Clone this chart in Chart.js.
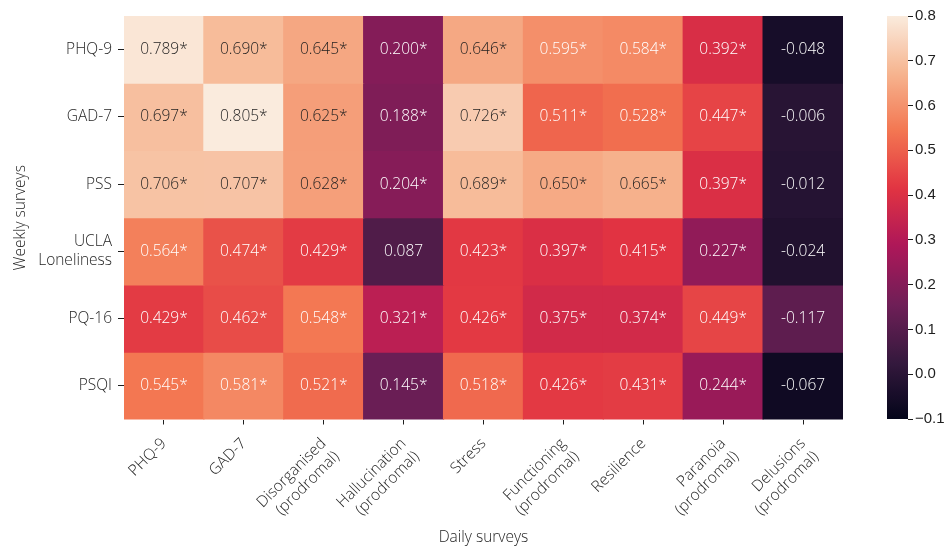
<!DOCTYPE html>
<html><head><meta charset="utf-8">
<script src="https://cdn.jsdelivr.net/npm/chart.js@4/dist/chart.umd.min.js"></script>
<style>
html,body{margin:0;padding:0;background:#fff;}
#wrap{position:relative;width:946px;height:548px;overflow:hidden;}
.box{position:absolute;top:0;height:548px;}
</style></head><body>
<div id="wrap">
  <div class="box" style="left:0;width:860px"><canvas id="main"></canvas></div>
  <div class="box" style="left:860px;width:86px"><canvas id="cbar"></canvas></div>
</div>
<script>
// ---- data ----
const dailySurveys = ["PHQ-9", "GAD-7", ["Disorganised", "(prodromal)"], ["Hallucination", "(prodromal)"],
  "Stress", ["Functioning", "(prodromal)"], "Resilience", ["Paranoia", "(prodromal)"], ["Delusions", "(prodromal)"]];
const weeklySurveys = ["PHQ-9", "GAD-7", "PSS", ["UCLA", "Loneliness"], "PQ-16", "PSQI"];

// cell shading values (as coloured in the figure)
const rowPHQ9  = [0.789, 0.690, 0.645, 0.200, 0.646, 0.595, 0.584, 0.392, -0.048];
const rowGAD7  = [0.697, 0.805, 0.625, 0.188, 0.726, 0.511, 0.528, 0.447, -0.006];
const rowPSS   = [0.706, 0.707, 0.628, 0.204, 0.689, 0.650, 0.665, 0.397, -0.012];
const rowUCLA  = [0.564, 0.474, 0.429, 0.087, 0.423, 0.397, 0.415, 0.227, -0.024];
const rowPQ16  = [0.429, 0.462, 0.548, 0.321, 0.426, 0.375, 0.374, 0.449, 0.117];
const rowPSQI  = [0.545, 0.581, 0.521, 0.145, 0.518, 0.426, 0.431, 0.244, -0.067];

// annotations printed in the cells
const annPHQ9 = ["0.789*", "0.690*", "0.645*", "0.200*", "0.646*", "0.595*", "0.584*", "0.392*", "-0.048"];
const annGAD7 = ["0.697*", "0.805*", "0.625*", "0.188*", "0.726*", "0.511*", "0.528*", "0.447*", "-0.006"];
const annPSS  = ["0.706*", "0.707*", "0.628*", "0.204*", "0.689*", "0.650*", "0.665*", "0.397*", "-0.012"];
const annUCLA = ["0.564*", "0.474*", "0.429*", "0.087", "0.423*", "0.397*", "0.415*", "0.227*", "-0.024"];
const annPQ16 = ["0.429*", "0.462*", "0.548*", "0.321*", "0.426*", "0.375*", "0.374*", "0.449*", "-0.117"];
const annPSQI = ["0.545*", "0.581*", "0.521*", "0.145*", "0.518*", "0.426*", "0.431*", "0.244*", "-0.067"];

const colorbarTicks = [-0.1, 0.0, 0.1, 0.2, 0.3, 0.4, 0.5, 0.6, 0.7, 0.8];
const VMIN = -0.1, VMAX = 0.8;

const rows = [rowPHQ9, rowGAD7, rowPSS, rowUCLA, rowPQ16, rowPSQI];
const anns = [annPHQ9, annGAD7, annPSS, annUCLA, annPQ16, annPSQI];

// ---- rocket colormap ----
const rocketStops = [
  [0, [3, 5, 26]], [1/7, [53, 25, 62]], [2/7, [112, 31, 87]], [3/7, [173, 23, 89]],
  [4/7, [225, 51, 66]], [5/7, [243, 118, 81]], [6/7, [246, 180, 143]], [1, [250, 235, 221]]
];
function rocketRGB(v) {
  let t = (v - VMIN) / (VMAX - VMIN);
  t = Math.max(0, Math.min(1, t));
  for (let k = 1; k < rocketStops.length; k++) {
    const [t1, c1] = rocketStops[k];
    const [t0, c0] = rocketStops[k - 1];
    if (t <= t1) {
      const f = (t - t0) / (t1 - t0);
      return c0.map((c, i) => Math.round(c + (c1[i] - c) * f));
    }
  }
  return rocketStops[rocketStops.length - 1][1];
}
const rgbStr = c => `rgb(${c[0]},${c[1]},${c[2]})`;
function luminance(c) {
  const l = c.map(x => { x /= 255; return x <= 0.03928 ? x / 12.92 : Math.pow((x + 0.055) / 1.055, 2.4); });
  return 0.2126 * l[0] + 0.7152 * l[1] + 0.0722 * l[2];
}

const FONT = "'Open Sans', 'Noto Sans', sans-serif";
const TXT = '#1e1e1e';
const W = 300;

const annotatePlugin = {
  id: 'annotate',
  afterDatasetsDraw(chart) {
    const ctx = chart.ctx;
    ctx.save();
    ctx.font = `${W} 15.5px ${FONT}`;
    ctx.textAlign = 'center';
    ctx.textBaseline = 'middle';
    chart.data.datasets.forEach((ds, i) => {
      const meta = chart.getDatasetMeta(i);
      meta.data.forEach((el, j) => {
        const rgb = rocketRGB(rows[i][j]);
        ctx.fillStyle = luminance(rgb) > 0.408 ? TXT : '#ffffff';
        ctx.fillText(anns[i][j], el.x, (el.y + el.base) / 2);
      });
    });
    ctx.restore();
  }
};

new Chart(document.getElementById('main'), {
  type: 'bar',
  data: {
    labels: dailySurveys,
    datasets: rows.map((row, i) => ({
      label: Array.isArray(weeklySurveys[i]) ? weeklySurveys[i].join(' ') : weeklySurveys[i],
      data: row.map(() => 1),
      backgroundColor: row.map(v => rgbStr(rocketRGB(v))),
      borderWidth: 0,
      inflateAmount: 0.6,
      barPercentage: 1,
      categoryPercentage: 1
    }))
  },
  options: {
    responsive: true,
    maintainAspectRatio: false,
    animation: false,
    layout: { padding: { left: 0, top: 16, right: 17, bottom: 0 } },
    plugins: { legend: { display: false }, tooltip: { enabled: false } },
    scales: {
      x: {
        stacked: true,
        grid: { display: true, offset: false, drawOnChartArea: false, drawTicks: true, tickLength: 5, color: TXT },
        border: { display: false },
        ticks: { color: TXT, font: { family: FONT, size: 15.5, weight: W }, maxRotation: 45, minRotation: 45, autoSkip: false, padding: 10 },
        title: { display: true, text: 'Daily surveys', color: TXT, font: { family: FONT, size: 15.5, weight: W }, padding: { top: 0, bottom: 1 } },
        afterFit: s => { s.height = 128.5; }
      },
      y: {
        type: 'linear',
        stacked: true,
        min: 0, max: weeklySurveys.length,
        reverse: true,
        afterBuildTicks: s => { s.ticks = weeklySurveys.map((_, i) => ({ value: i + 0.5 })); },
        grid: { display: true, drawOnChartArea: false, drawTicks: true, tickLength: 6, color: TXT },
        border: { display: false },
        ticks: {
          color: TXT, font: { family: FONT, size: 15.5, weight: W }, autoSkip: false, padding: 6,
          callback: v => weeklySurveys[Math.floor(v)]
        },
        title: { display: true, text: 'Weekly surveys', color: TXT, font: { family: FONT, size: 15.5, weight: W }, padding: { top: 11, bottom: 0 } },
        afterFit: s => { s.width = 124; }
      }
    }
  },
  plugins: [annotatePlugin]
});

// ---- colour bar ----
new Chart(document.getElementById('cbar'), {
  type: 'bar',
  data: {
    labels: ['r'],
    datasets: [{
      data: [[VMIN, VMAX]],
      backgroundColor: (c) => {
        const ch = c.chart;
        if (!ch.chartArea) return 'rgb(200,50,70)';
        const y = ch.scales.y;
        const g = ch.ctx.createLinearGradient(0, y.getPixelForValue(VMIN), 0, y.getPixelForValue(VMAX));
        const n = 60;
        for (let k = 0; k <= n; k++) g.addColorStop(k / n, rgbStr(rocketRGB(VMIN + (VMAX - VMIN) * k / n)));
        return g;
      },
      borderWidth: 0,
      barPercentage: 1,
      categoryPercentage: 1
    }]
  },
  options: {
    responsive: true,
    maintainAspectRatio: false,
    animation: false,
    layout: { padding: { left: 27, top: 16, right: 0, bottom: 129 } },
    plugins: { legend: { display: false }, tooltip: { enabled: false } },
    scales: {
      x: { display: false },
      y: {
        position: 'right',
        min: VMIN, max: VMAX,
        afterBuildTicks: s => { s.ticks = colorbarTicks.map(v => ({ value: v })); },
        grid: { display: true, drawOnChartArea: false, drawTicks: true, tickLength: 5, color: TXT },
        border: { display: false },
        ticks: {
          color: TXT, font: { family: "'Liberation Sans', Arial, sans-serif", size: 15 }, padding: 2,
          callback: v => (v < -1e-9 ? '\u2212' : '') + Math.abs(v).toFixed(1)
        },
        afterFit: s => { s.width = 38; }
      }
    }
  }
});
</script>
</body></html>
